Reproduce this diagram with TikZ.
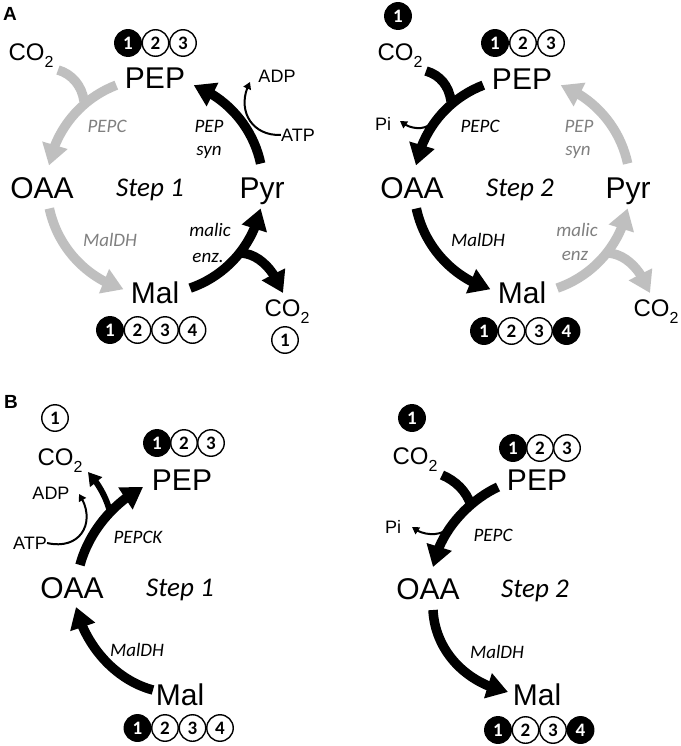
\documentclass[tikz,border=0pt]{standalone}
\usepackage{fontspec}
\setmainfont{Liberation Sans}
\newfontfamily\carl{Carlito}
\usetikzlibrary{arrows.meta,bending,calc}
\definecolor{lgray}{RGB}{191,191,191}
\definecolor{tgray}{RGB}{128,128,128}
\newcommand\subtwo{\raisebox{-7pt}{\fontsize{16}{16}\selectfont 2}}
\begin{document}
\begin{tikzpicture}[x=1pt,y=-1pt,
  met/.style={inner sep=0pt, text height=21.5pt, text depth=0pt, font=\fontsize{30}{30}\selectfont},
  co/.style={inner sep=0pt, text height=17pt, text depth=0pt, font=\fontsize{24}{24}\selectfont},
  sm/.style={inner sep=0pt, text height=13pt, text depth=0pt, font=\fontsize{18}{18}\selectfont},
  enz/.style={inner sep=0pt, text height=12pt, text depth=0pt, font=\carl\itshape\fontsize{19}{19}\selectfont},
  gen/.style={enz, text=tgray},
  stp/.style={inner sep=0pt, text height=17pt, text depth=0pt, font=\carl\itshape\fontsize{27}{27}\selectfont},
  tok/.style={circle, draw=black, line width=1.4pt, minimum size=26.5pt, inner sep=0pt, font=\carl\bfseries\fontsize{19}{19}\selectfont},
  tokb/.style={tok, fill=black, text=white},
  tokw/.style={tok, fill=white, text=black},
  panel/.style={font=\bfseries\fontsize{19}{19}\selectfont, inner sep=0pt},
  bigarr/.style={line width=9.5pt, -{Triangle[length=21pt,width=25pt]}},
  midarr/.style={line width=6pt, -{Triangle[length=13pt,width=15pt]}},
  barline/.style={line width=9.5pt},
  thinarr/.style={line width=2pt, -{Triangle[length=7pt,width=8pt]}},
]
\useasboundingbox (0,0) rectangle (680,746);
\fill[white] (0,0) rectangle (680,746);

% ================= A, step 1 =================
\node[panel] (labA) at (10,14) {A};
\node[tokb] (a1p1) at (128,43) {1};
\node[tokw] (a1p2) at (155.5,43) {2};
\node[tokw] (a1p3) at (183,43) {3};
\node[met] (a1PEP) at (155,78) {PEP};
\node[co] (a1CO2t) at (31,52) {CO\subtwo};
\node[met] (a1OAA) at (42,188) {OAA};
\node[stp] (a1step) at (150,188) {Step 1};
\node[met] (a1Pyr) at (262,188) {Pyr};
\node[met] (a1Mal) at (155,293) {Mal};
\node[tokb] (a1m1) at (110,330) {1};
\node[tokw] (a1m2) at (137.5,330) {2};
\node[tokw] (a1m3) at (165,330) {3};
\node[tokw] (a1m4) at (192.5,330) {4};
\node[co] (a1CO2b) at (287,308) {CO\subtwo};
\node[tokw] (a1c1) at (285,340) {1};
\node[sm] (a1ADP) at (277,76) {ADP};
\node[sm] (a1ATP) at (298,135) {ATP};
\node[enz] (a1syn1) at (209,127) {PEP};
\node[enz] (a1syn2) at (209,150) {syn};
\node[gen] (a1pepc) at (107,127) {PEPC};
\node[gen] (a1maldh) at (110,240) {MalDH};
\node[enz] (a1me1) at (210,230) {malic};
\node[enz] (a1me2) at (208,256) {enz.};

\coordinate (cA1) at (155,186);
\coordinate (a1br1) at (58,70);
\coordinate (a1br1e) at (84,101);
\coordinate (a1br2) at (241,253);
\coordinate (a1br2e) at (283,293);
\coordinate (a1adpt) at (250,82);
\draw[bigarr, lgray] ($(cA1)+(249:108)$) arc[start angle=249,end angle=191,radius=108];
\draw[barline, lgray] (a1br1) .. controls (72,74) and (82,86) .. (a1br1e);
\draw[bigarr, lgray] ($(cA1)+(168:108)$) arc[start angle=168,end angle=107,radius=108];
\draw[bigarr] ($(cA1)+(71:108)$) arc[start angle=71,end angle=12,radius=108];
\draw[bigarr] (a1br2) .. controls (258,254) and (273,268) .. (a1br2e);
\draw[bigarr] ($(cA1)+(-12:108)$) arc[start angle=-12,end angle=-69,radius=108];
\draw[thinarr] (a1ATP.west) .. controls (250,136) and (236,108) .. (a1adpt);

% ================= A, step 2 =================
\node[tokb] (a2c1) at (398,16) {1};
\node[co] (a2CO2t) at (400,52) {CO\subtwo};
\node[tokb] (a2p1) at (495,43) {1};
\node[tokw] (a2p2) at (523,43) {2};
\node[tokw] (a2p3) at (551,43) {3};
\node[met] (a2PEP) at (522,79) {PEP};
\node[sm] (a2Pi) at (383,124) {Pi};
\node[enz] (a2pepc) at (480,127) {PEPC};
\node[gen] (a2syn1) at (579,127) {PEP};
\node[gen] (a2syn2) at (578,150) {syn};
\node[met] (a2OAA) at (412,188) {OAA};
\node[stp] (a2step) at (520,188) {Step 2};
\node[met] (a2Pyr) at (628,188) {Pyr};
\node[enz] (a2maldh) at (478,240) {MalDH};
\node[gen] (a2me1) at (577,230) {malic};
\node[gen] (a2me2) at (575,254) {enz};
\node[met] (a2Mal) at (522,293) {Mal};
\node[co] (a2CO2b) at (656,308) {CO\subtwo};
\node[tokb] (a2m1) at (484,331) {1};
\node[tokw] (a2m2) at (511.5,331) {2};
\node[tokw] (a2m3) at (539,331) {3};
\node[tokb] (a2m4) at (566.5,331) {4};

\coordinate (cA2) at (522,186);
\coordinate (a2br1) at (426,71);
\coordinate (a2br1e) at (451,101);
\coordinate (a2pis) at (433,121);
\coordinate (a2pit) at (400,121);
\coordinate (a2br2) at (608,253);
\coordinate (a2br2e) at (650,293);
\draw[bigarr] ($(cA2)+(249:108)$) arc[start angle=249,end angle=191,radius=108];
\draw[barline] (a2br1) .. controls (440,75) and (449,86) .. (a2br1e);
\draw[thinarr] (a2pis) .. controls (427,131) and (410,130) .. (a2pit);
\draw[bigarr] ($(cA2)+(168:108)$) arc[start angle=168,end angle=107,radius=108];
\draw[bigarr, lgray] ($(cA2)+(71:108)$) arc[start angle=71,end angle=12,radius=108];
\draw[bigarr, lgray] (a2br2) .. controls (625,254) and (640,268) .. (a2br2e);
\draw[bigarr, lgray] ($(cA2)+(-12:108)$) arc[start angle=-12,end angle=-69,radius=108];

% ================= B, step 1 =================
\node[panel] (labB) at (11,402) {B};
\node[tokw] (b1c1) at (55,418) {1};
\node[co] (b1CO2) at (60,457) {CO\subtwo};
\node[tokb] (b1p1) at (157,443) {1};
\node[tokw] (b1p2) at (184,443) {2};
\node[tokw] (b1p3) at (211,443) {3};
\node[met] (b1PEP) at (182,480) {PEP};
\node[sm] (b1ADP) at (51,493) {ADP};
\node[sm] (b1ATP) at (30,543) {ATP};
\node[enz] (b1pepck) at (138,537) {PEPCK};
\node[met] (b1OAA) at (72,588) {OAA};
\node[stp] (b1step) at (180,588) {Step 1};
\node[enz] (b1maldh) at (137,650) {MalDH};
\node[met] (b1Mal) at (180,695) {Mal};
\node[tokb] (b1m1) at (137.5,728) {1};
\node[tokw] (b1m2) at (165,728) {2};
\node[tokw] (b1m3) at (192.5,728) {3};
\node[tokw] (b1m4) at (220,728) {4};

\coordinate (b1s) at (80,565);
\coordinate (b1t) at (143,487);
\coordinate (b1bs) at (110,512);
\coordinate (b1bt) at (88,472);
\coordinate (b1adpt) at (79,494);
\coordinate (b1ms) at (153,690);
\coordinate (b1mt) at (76,607);
\draw[bigarr] (b1s) .. controls (88,535) and (110,505) .. (b1t);
\draw[midarr] (b1bs) .. controls (107,500) and (100,485) .. (b1bt);
\draw[thinarr] (b1ATP.east) .. controls (82,551) and (97,520) .. (b1adpt);
\draw[bigarr] (b1ms) .. controls (115,680) and (85,645) .. (b1mt);

% ================= B, step 2 =================
\node[tokb] (b2c1) at (412,418) {1};
\node[co] (b2CO2) at (415,456) {CO\subtwo};
\node[tokb] (b2p1) at (513,448) {1};
\node[tokw] (b2p2) at (540,448) {2};
\node[tokw] (b2p3) at (567,448) {3};
\node[met] (b2PEP) at (537,480) {PEP};
\node[sm] (b2Pi) at (393,527) {Pi};
\node[enz] (b2pepc) at (493,535) {PEPC};
\node[met] (b2OAA) at (428,589) {OAA};
\node[stp] (b2step) at (535,589) {Step 2};
\node[enz] (b2maldh) at (497,652) {MalDH};
\node[met] (b2Mal) at (537,695) {Mal};
\node[tokb] (b2m1) at (498,730) {1};
\node[tokw] (b2m2) at (525.5,730) {2};
\node[tokw] (b2m3) at (553,730) {3};
\node[tokb] (b2m4) at (580.5,730) {4};

\coordinate (b2s) at (498,487);
\coordinate (b2t) at (433,567);
\coordinate (b2bs) at (442,475);
\coordinate (b2be) at (471,505);
\coordinate (b2pis) at (449,527);
\coordinate (b2pit) at (412,527);
\coordinate (b2ms) at (433,610);
\coordinate (b2mt) at (508,692);
\draw[bigarr] (b2s) .. controls (470,500) and (440,530) .. (b2t);
\draw[barline] (b2bs) .. controls (456,481) and (466,491) .. (b2be);
\draw[thinarr] (b2pis) .. controls (442,537) and (422,536) .. (b2pit);
\draw[bigarr] (b2ms) .. controls (435,650) and (465,683) .. (b2mt);
\end{tikzpicture}
\end{document}
